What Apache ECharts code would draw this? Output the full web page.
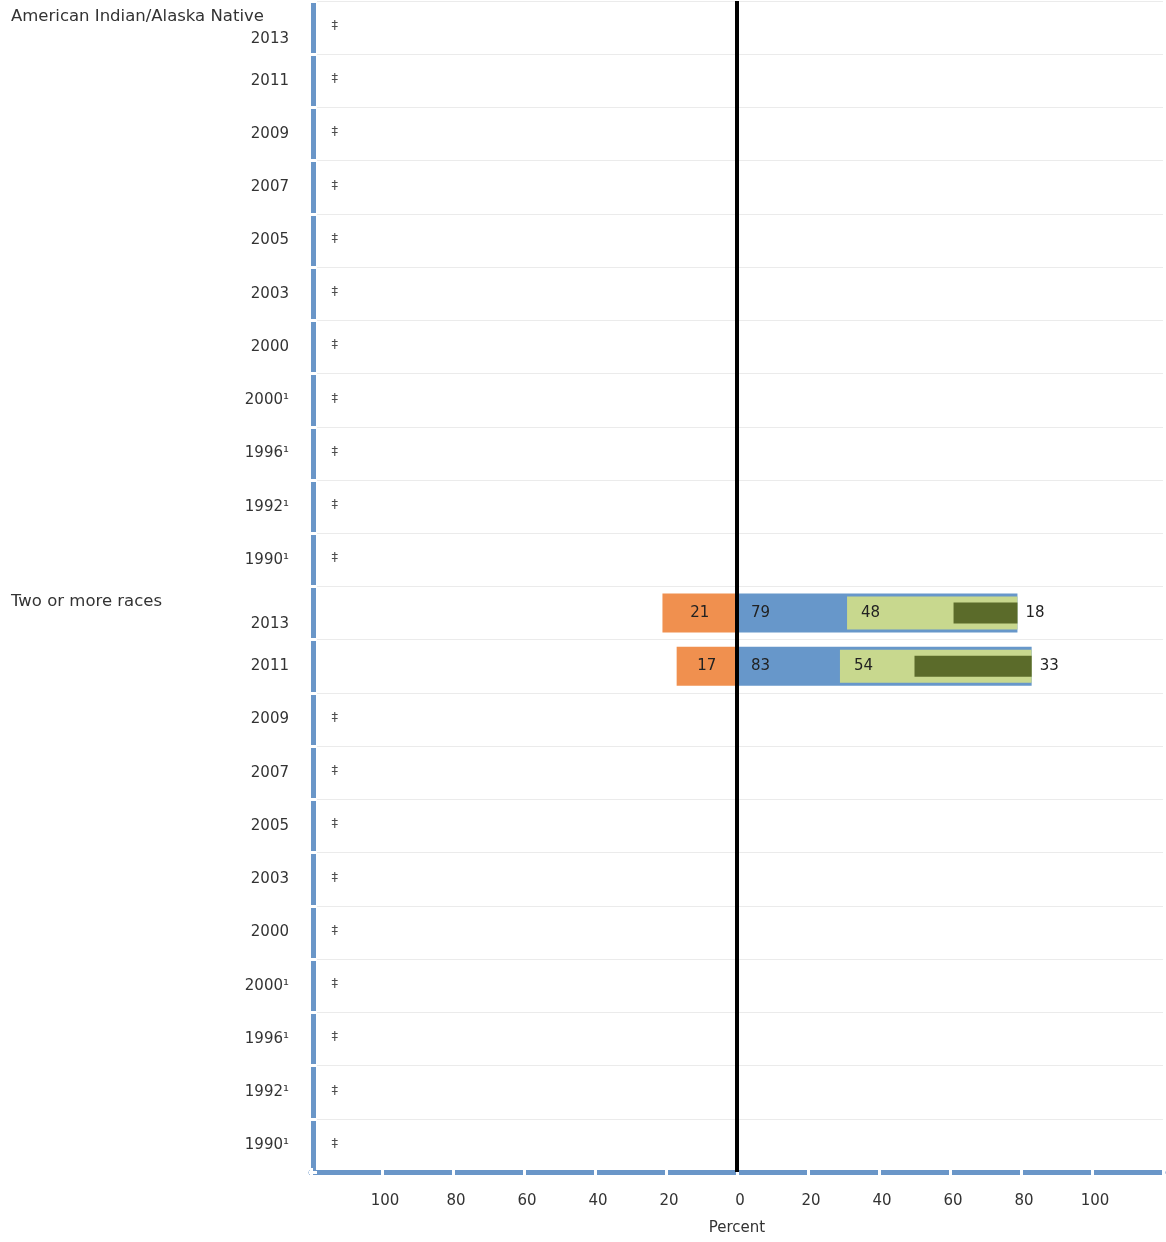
<!DOCTYPE html>
<html>
<head>
<meta charset="utf-8">
<script src="https://cdn.jsdelivr.net/npm/echarts@6/dist/echarts.min.js"></script>
<style>
  html, body { margin: 0; padding: 0; background: #fff; }
  #chart { width: 1166px; height: 1242px; }
</style>
</head>
<body>
<div id="chart"></div>
<script>
// row groups and years (same years in each group)
const groups = ['American Indian/Alaska Native', 'Two or more races'];
const years = ['2013', '2011', '2009', '2007', '2005', '2003', '2000', '2000\u00b9', '1996\u00b9', '1992\u00b9', '1990\u00b9'];

// percent values per row, null = reporting standards not met (‡)
const notEnrolled = [null, null, null, null, null, null, null, null, null, null, null,
                     21, 17, null, null, null, null, null, null, null, null, null];
const enrolled = [null, null, null, null, null, null, null, null, null, null, null,
                  79, 83, null, null, null, null, null, null, null, null, null];
const lightGreen = [null, null, null, null, null, null, null, null, null, null, null,
                    48, 54, null, null, null, null, null, null, null, null, null];
const darkGreen = [null, null, null, null, null, null, null, null, null, null, null,
                   18, 33, null, null, null, null, null, null, null, null, null];

const xTicks = [-120, 120, 20]; // min, max, interval

const rows = [];
groups.forEach(function (g, gi) {
  years.forEach(function (y, yi) {
    rows.push({ key: gi + '-' + yi, group: yi === 0 ? g : null, year: y });
  });
});
const rowKeys = rows.map(r => r.key);

const FONT = 'DejaVu Sans';
const BLUE = '#6797ca';
const AXIS_BLUE = '#6a96c8';

const chart = echarts.init(document.getElementById('chart'));

const catAxis = function (extra) {
  return Object.assign({
    type: 'category',
    data: rowKeys,
    inverse: true,
    position: 'left',
    offset: -2
  }, extra);
};

const valAxis = function (extra) {
  return Object.assign({
    type: 'value',
    min: xTicks[0],
    max: xTicks[1],
    interval: xTicks[2],
    position: 'bottom',
    splitLine: { show: false }
  }, extra);
};

const option = {
  animation: false,
  backgroundColor: '#fff',
  grid: { left: 311, right: 3, top: 1, bottom: 70, containLabel: false },
  xAxis: [
    valAxis({
      axisLine: { show: true, onZero: false, lineStyle: { color: AXIS_BLUE, width: 5, cap: 'round' } },
      axisTick: { show: true, length: 4, lineStyle: { color: '#fff', width: 3 } },
      axisLabel: {
        margin: 22, color: '#333', fontFamily: FONT, fontSize: 15, padding: [0, 0, 0, 6],
        formatter: v => Math.abs(v) === 120 ? '' : String(Math.abs(v))
      },
      name: 'Percent', nameLocation: 'middle', nameGap: 49,
      nameTextStyle: { color: '#333', fontFamily: FONT, fontSize: 15 }
    }),
    valAxis({
      axisLine: { show: false, onZero: false },
      axisTick: { show: true, inside: true, length: 4, lineStyle: { color: '#fff', width: 3 } },
      axisLabel: { show: false }
    })
  ],
  yAxis: [
    catAxis({
      axisLine: { show: true, onZero: false, lineStyle: { color: AXIS_BLUE, width: 5 } },
      axisTick: { show: true, interval: 0, length: 4, lineStyle: { color: '#fff', width: 3 } },
      splitLine: { show: true, interval: 0, lineStyle: { color: '#ebebeb', width: 1 } },
      axisLabel: {
        interval: 0, margin: 24, color: '#333', fontFamily: FONT, fontSize: 15,
        formatter: function (v, i) {
          const r = rows[i];
          if (r.group) return '{g|' + r.group + '}\n{y|' + r.year + '}';
          return '{y|' + r.year + '}';
        },
        rich: {
          g: { align: 'left', width: 278, fontFamily: FONT, fontSize: 16.5, color: '#333', lineHeight: 22 },
          y: { align: 'right', fontFamily: FONT, fontSize: 15, color: '#333', lineHeight: 22 }
        }
      }
    }),
    catAxis({
      axisLine: { show: false, onZero: false },
      axisTick: { show: true, inside: true, interval: 0, length: 4, lineStyle: { color: '#fff', width: 3 } },
      axisLabel: { show: false },
      splitLine: { show: false }
    }),
    catAxis({ show: false })
  ],
  series: [
    {
      name: 'Not enrolled',
      type: 'bar',
      yAxisIndex: 0,
      barWidth: 39,
      barGap: '-100%',
      data: notEnrolled.map(v => v == null ? null : -v),
      itemStyle: { color: '#f0904f' },
      label: {
        show: true, position: 'inside', color: '#222', fontFamily: FONT, fontSize: 15,
        formatter: p => p.value == null ? '' : String(Math.abs(p.value))
      }
    },
    {
      name: 'Enrolled',
      type: 'bar',
      yAxisIndex: 0,
      barWidth: 39,
      barGap: '-100%',
      data: enrolled,
      itemStyle: { color: BLUE },
      label: {
        show: true, position: 'insideLeft', distance: 14, color: '#222', fontFamily: FONT, fontSize: 15
      },
      markLine: {
        silent: true, symbol: 'none', z: 20,
        label: { show: false },
        lineStyle: { color: '#000', width: 4, type: 'solid' },
        data: [{ xAxis: 0 }]
      }
    },
    {
      type: 'bar',
      yAxisIndex: 1,
      stack: 'lg',
      barWidth: 33,
      silent: true,
      data: enrolled.map((v, i) => v == null ? null : v - lightGreen[i]),
      itemStyle: { color: 'rgba(0,0,0,0)' }
    },
    {
      name: 'Light green',
      type: 'bar',
      yAxisIndex: 1,
      stack: 'lg',
      barWidth: 33,
      data: lightGreen,
      itemStyle: { color: '#c8d88e' },
      label: {
        show: true, position: 'insideLeft', distance: 14, color: '#222', fontFamily: FONT, fontSize: 15
      }
    },
    {
      type: 'bar',
      yAxisIndex: 2,
      stack: 'dg',
      barWidth: 21,
      silent: true,
      data: enrolled.map((v, i) => v == null ? null : v - darkGreen[i]),
      itemStyle: { color: 'rgba(0,0,0,0)' }
    },
    {
      name: 'Dark green',
      type: 'bar',
      yAxisIndex: 2,
      stack: 'dg',
      barWidth: 21,
      data: darkGreen,
      itemStyle: { color: '#5b6b2a' },
      label: {
        show: true, position: 'right', distance: 8, color: '#222', fontFamily: FONT, fontSize: 15
      }
    },
    {
      name: 'Reporting standards not met',
      type: 'scatter',
      yAxisIndex: 0,
      symbolSize: 1,
      itemStyle: { color: 'rgba(0,0,0,0)' },
      data: rows.map((r, i) => enrolled[i] == null ? [xTicks[0], i] : null).filter(d => d),
      label: {
        show: true, position: 'right', distance: 20, offset: [0, -2],
        formatter: '\u2021', color: '#222', fontFamily: FONT, fontSize: 13
      }
    }
  ]
};

chart.setOption(option);
</script>
</body>
</html>
